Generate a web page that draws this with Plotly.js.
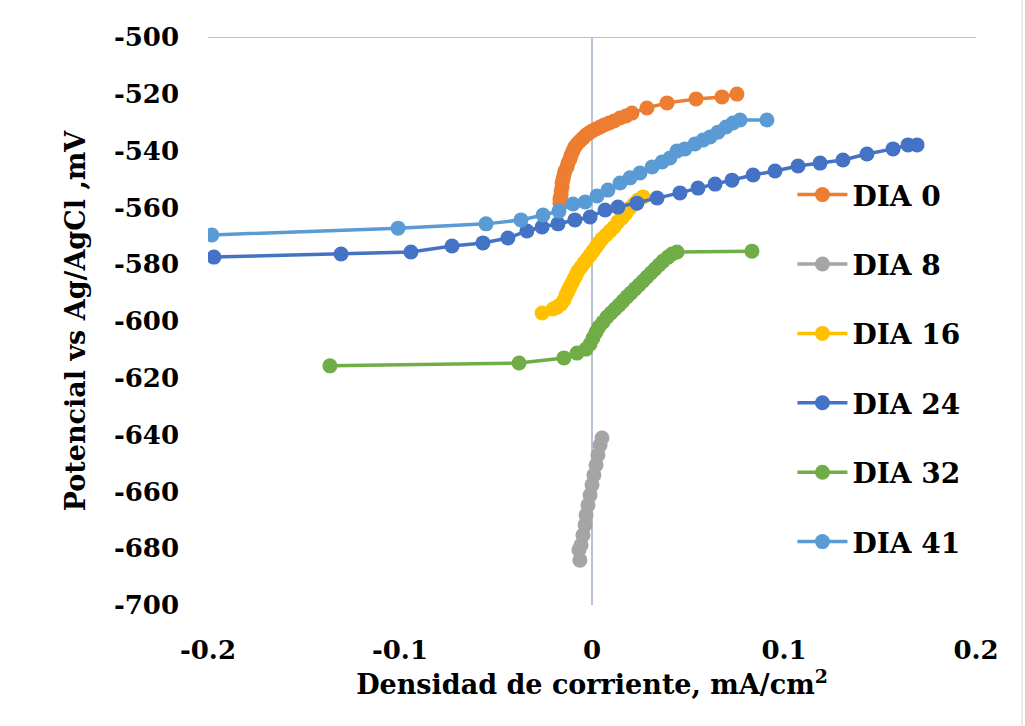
<!DOCTYPE html>
<html>
<head>
<meta charset="utf-8">
<script src="https://cdn.plot.ly/plotly-3.0.1.min.js"></script>
<style>
  html, body { margin: 0; padding: 0; background: #ffffff; }
  #chart { width: 1025px; height: 726px; }
</style>
</head>
<body>
<div id="chart"></div>
<script>
// ---- Data ----
const seriesNames = ["DIA 0", "DIA 8", "DIA 16", "DIA 24", "DIA 32", "DIA 41"];
const seriesColors = ["#ED7D31", "#A5A5A5", "#FFC000", "#4472C4", "#70AD47", "#5B9BD5"];

const dia0_x = [-0.0167, -0.0167, -0.0161, -0.0161, -0.0156, -0.0156, -0.0151, -0.0146, -0.0141, -0.0130, -0.0125, -0.0115, -0.0109, -0.0099, -0.0089, -0.0078, -0.0063, -0.0047, -0.0031, -0.0016, 0.0000, 0.0021, 0.0042, 0.0063, 0.0089, 0.0115, 0.0146, 0.0177, 0.0208, 0.0286, 0.0391, 0.0542, 0.0677, 0.0755];
const dia0_y = [-558.5, -557.0, -555.6, -554.2, -552.8, -551.4, -550.0, -548.6, -547.2, -545.8, -544.4, -543.0, -541.6, -540.1, -538.7, -537.7, -536.6, -535.6, -534.5, -533.8, -533.1, -532.4, -531.7, -531.0, -530.3, -529.6, -528.5, -527.8, -526.8, -525.0, -523.2, -521.8, -521.1, -520.1];

const dia8_x = [-0.0063, -0.0068, -0.0057, -0.0047, -0.0036, -0.0031, -0.0021, -0.0010, 0.0000, 0.0010, 0.0021, 0.0031, 0.0042, 0.0052];
const dia8_y = [-684.2, -680.6, -678.9, -675.4, -671.8, -668.3, -664.8, -661.3, -657.7, -654.2, -650.7, -647.2, -643.7, -641.2];

const dia16_x = [-0.0260, -0.0203, -0.0182, -0.0161, -0.0146, -0.0135, -0.0125, -0.0115, -0.0104, -0.0094, -0.0083, -0.0073, -0.0057, -0.0042, -0.0026, -0.0010, 0.0005, 0.0021, 0.0036, 0.0052, 0.0073, 0.0094, 0.0115, 0.0135, 0.0156, 0.0177, 0.0198, 0.0219, 0.0240, 0.0266];
const dia16_y = [-597.2, -595.8, -595.1, -594.0, -592.6, -590.8, -589.4, -588.0, -586.6, -585.2, -583.8, -582.4, -581.0, -579.6, -578.2, -576.8, -575.4, -573.9, -572.5, -571.1, -569.7, -568.3, -566.9, -565.1, -563.7, -562.0, -560.2, -558.8, -557.4, -556.3];

const dia24_x = [-0.1969, -0.1307, -0.0943, -0.0729, -0.0568, -0.0438, -0.0339, -0.0260, -0.0177, -0.0089, -0.0010, 0.0068, 0.0135, 0.0234, 0.0339, 0.0458, 0.0552, 0.0641, 0.0729, 0.0839, 0.0953, 0.1073, 0.1188, 0.1307, 0.1432, 0.1568, 0.1646, 0.1693];
const dia24_y = [-577.5, -576.4, -575.7, -573.6, -572.5, -570.8, -568.3, -566.9, -565.8, -564.4, -563.4, -560.9, -559.9, -558.5, -556.7, -554.9, -553.2, -551.8, -550.4, -548.6, -547.2, -545.4, -544.4, -543.3, -541.2, -539.4, -538.0, -538.0];

const dia32_x = [-0.1365, -0.0380, -0.0146, -0.0078, -0.0031, -0.0010, 0.0005, 0.0021, 0.0036, 0.0057, 0.0078, 0.0099, 0.0120, 0.0141, 0.0161, 0.0182, 0.0203, 0.0224, 0.0245, 0.0266, 0.0286, 0.0307, 0.0328, 0.0349, 0.0370, 0.0396, 0.0417, 0.0443, 0.0833];
const dia32_y = [-615.8, -614.8, -613.0, -611.3, -609.9, -608.1, -606.0, -603.9, -602.1, -600.4, -598.6, -597.2, -595.8, -594.4, -593.0, -591.5, -590.1, -588.7, -587.3, -585.9, -584.5, -583.1, -581.7, -580.3, -578.9, -577.5, -576.4, -575.7, -575.4];

const dia41_x = [-0.1980, -0.1010, -0.0552, -0.0370, -0.0255, -0.0172, -0.0099, -0.0036, 0.0026, 0.0083, 0.0146, 0.0198, 0.0250, 0.0313, 0.0365, 0.0406, 0.0443, 0.0484, 0.0536, 0.0578, 0.0615, 0.0656, 0.0698, 0.0734, 0.0771, 0.0911];
const dia41_y = [-569.7, -567.3, -565.8, -564.4, -562.7, -561.3, -558.8, -558.1, -556.0, -553.9, -551.4, -549.6, -547.9, -545.8, -544.0, -542.6, -540.1, -539.4, -537.7, -536.3, -535.2, -533.5, -531.7, -530.3, -529.2, -529.2];

const xTickVals = [-0.2, -0.1, 0, 0.1, 0.2];
const xTickText = ["-0.2", "-0.1", "0", "0.1", "0.2"];
const yTickVals = [-700, -680, -660, -640, -620, -600, -580, -560, -540, -520, -500];
const yTickText = ["-700", "-680", "-660", "-640", "-620", "-600", "-580", "-560", "-540", "-520", "-500"];

const xTitle = "Densidad de corriente, mA/cm<sup>2</sup>";
const yTitle = "Potencial vs Ag/AgCl ,mV";

// ---- Build traces ----
const xs = [dia0_x, dia8_x, dia16_x, dia24_x, dia32_x, dia41_x];
const ys = [dia0_y, dia8_y, dia16_y, dia24_y, dia32_y, dia41_y];

const FONT = "'DejaVu Serif', 'Liberation Serif', serif";

const traces = seriesNames.map((name, i) => ({
  type: "scatter",
  mode: "lines+markers",
  name: name,
  legendgroup: "g" + i,
  x: xs[i],
  y: ys[i],
  line: { color: seriesColors[i], width: 3.5 },
  marker: { color: seriesColors[i], size: 15, symbol: "circle" },
  hoverinfo: "x+y+name"
}));

const layout = {
  width: 1025,
  height: 726,
  paper_bgcolor: "#ffffff",
  plot_bgcolor: "#ffffff",
  margin: { l: 208, r: 49, t: 37, b: 121 },
  font: { family: FONT, size: 26, color: "#000000" },
  showlegend: true,
  legend: {
    x: 0.761, y: 0.766, xanchor: "left", yanchor: "top",
    bgcolor: "rgba(255,255,255,0)",
    font: { family: FONT, size: 28, color: "#000000", weight: "bold" },
    traceorder: "grouped",
    tracegroupgap: 30,
    itemwidth: 50
  },
  xaxis: {
    range: [-0.2, 0.2],
    tickvals: xTickVals,
    ticktext: xTickText,
    showgrid: false,
    zeroline: true,
    zerolinecolor: "#B9C2D2",
    zerolinewidth: 2,
    showline: false,
    ticks: "",
    ticklabelstandoff: 27,
    tickfont: { family: FONT, size: 26, color: "#000000", weight: "bold" },
    title: { text: xTitle, font: { family: FONT, size: 27, color: "#000000", weight: "bold" }, standoff: 8 }
  },
  yaxis: {
    range: [-700, -500],
    tickvals: yTickVals,
    ticktext: yTickText,
    showgrid: false,
    zeroline: false,
    showline: false,
    ticks: "",
    ticklabelstandoff: 28,
    tickfont: { family: FONT, size: 26, color: "#000000", weight: "bold" },
    title: { text: yTitle, font: { family: FONT, size: 27, color: "#000000", weight: "bold" }, standoff: 20 }
  },
  shapes: [
    { type: "line", xref: "paper", yref: "y", x0: 0, x1: 1, y0: -500, y1: -500,
      line: { color: "#B9C2D2", width: 2 }, layer: "below" },
    { type: "line", xref: "paper", yref: "paper", x0: 1.06, x1: 1.06, y0: -0.215, y1: 1.07,
      line: { color: "#D9D9D9", width: 1 } }
  ]
};

Plotly.newPlot("chart", traces, layout, { displayModeBar: false, staticPlot: true });
</script>
</body>
</html>
